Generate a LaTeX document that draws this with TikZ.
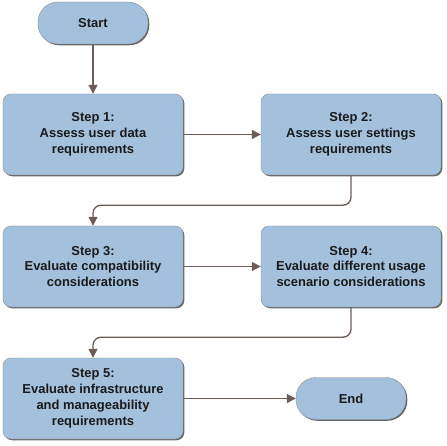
\documentclass[tikz,border=0pt]{standalone}
\usepackage{fontspec}
\setmainfont{Liberation Sans}
\usetikzlibrary{arrows.meta,shadows}
\definecolor{boxfill}{HTML}{A3C1DC}
\definecolor{boxline}{HTML}{8A8F96}
\definecolor{arrowcol}{HTML}{6E5D57}
\definecolor{textcol}{HTML}{1A1A1A}

\begin{document}
\begin{tikzpicture}[x=1bp,y=-1bp,
    stepbox/.style={draw=boxline, fill=boxfill, text=textcol, rounded corners=8bp,
      minimum width=180bp, minimum height=81bp, align=center,
      font=\bfseries\fontsize{13}{16}\selectfont,
      drop shadow={shadow xshift=1.3bp, shadow yshift=-1.3bp, fill=black!60, opacity=1}},
    termbox/.style={stepbox, rounded corners=20bp, minimum width=110bp, minimum height=42bp},
    flow/.style={draw=arrowcol, line width=1.3bp, rounded corners=8bp,
      -{Triangle[length=9bp,width=9bp]}}]
      \useasboundingbox[fill=white] (0,0) rectangle (447,446);

      % Draw the steps
      \node[termbox] (start) at (93,23) {Start};
      \node[stepbox] (s1) at (93,134.5) {Step 1:\\Assess user data\\requirements};
      \node[stepbox] (s2) at (351,134.5) {Step 2:\\Assess user settings\\requirements};
      \node[stepbox] (s3) at (93,266.5) {Step 3:\\Evaluate compatibility\\considerations};
      \node[stepbox] (s4) at (351,266.5) {Step 4:\\Evaluate different usage\\scenario considerations};
      \node[stepbox] (s5) at (93,398.5) {Step 5:\\Evaluate infrastructure\\and manageability\\requirements};
      \node[termbox] (end) at (351,398.5) {End};

      % Draw the connectors
      \draw[flow] (start) -- (s1);
      \draw[flow] (s1) -- (s2);
      \draw[flow] (s2.south) -- ++(0,30) -| (s3.north);
      \draw[flow] (s3) -- (s4);
      \draw[flow] (s4.south) -- ++(0,30) -| (s5.north);
      \draw[flow] (s5) -- (end);
    \end{tikzpicture}
\end{document}
